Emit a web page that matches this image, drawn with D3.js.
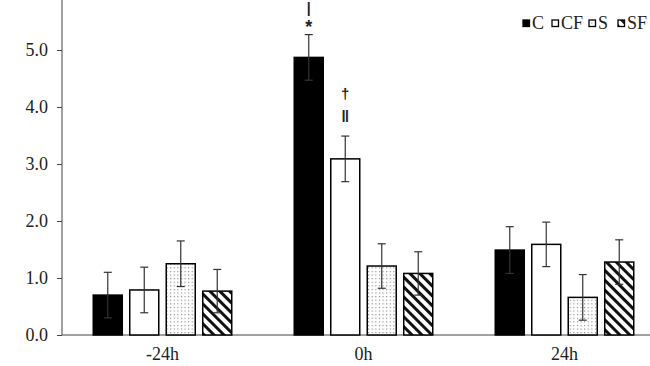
<!DOCTYPE html>
<html><head><meta charset="utf-8">
<script src="https://cdn.jsdelivr.net/npm/d3@7"></script>
<style>body{margin:0;background:#fff}svg{display:block}text{font-family:"Liberation Serif","Times New Roman",serif;fill:#222}</style>
</head><body><svg id="c" width="650" height="366"></svg>
<script>
const categories = ["-24h", "0h", "24h"];
const series = ["C", "CF", "S", "SF"];
const valuesC  = [0.70, 4.87, 1.49];
const valuesCF = [0.79, 3.09, 1.59];
const valuesS  = [1.25, 1.21, 0.66];
const valuesSF = [0.77, 1.08, 1.28];
const errC  = [0.40, 0.40, 0.41];
const errCF = [0.40, 0.40, 0.39];
const errS  = [0.40, 0.39, 0.40];
const errSF = [0.38, 0.38, 0.39];
const yTicks = [0, 1, 2, 3, 4, 5];
const annotations = [
  {cat: "0h", ser: "C", lines: ["*", "|"]},
  {cat: "0h", ser: "CF", lines: ["\u2016", "\u2020"]}
];

const vals = {C: valuesC, CF: valuesCF, S: valuesS, SF: valuesSF};
const errs = {C: errC, CF: errCF, S: errS, SF: errSF};
const data = [];
categories.forEach((c, i) => series.forEach(s => data.push({cat: c, ser: s, v: vals[s][i], e: errs[s][i]})));

const svg = d3.select("#c");
const defs = svg.append("defs");
const dots = defs.append("pattern").attr("id", "dots").attr("patternUnits", "userSpaceOnUse").attr("width", 3.6).attr("height", 3.6);
dots.append("rect").attr("width", 3.6).attr("height", 3.6).attr("fill", "#fff");
dots.append("rect").attr("x", 1).attr("y", 1).attr("width", 1).attr("height", 1).attr("fill", "#666");
const stripes = defs.append("pattern").attr("id", "stripes").attr("patternUnits", "userSpaceOnUse").attr("width", 7).attr("height", 7).attr("patternTransform", "rotate(45)");
stripes.append("rect").attr("width", 7).attr("height", 7).attr("fill", "#fff");
stripes.append("rect").attr("x", 0).attr("y", 0).attr("width", 7).attr("height", 3).attr("fill", "#111");

const fills = {C: "#000", CF: "#fff", S: "url(#dots)", SF: "url(#stripes)"};

const x0 = d3.scaleBand().domain(categories).range([62, 665]).paddingInner(0.311).paddingOuter(0.1555);
const x1 = d3.scaleBand().domain(series).range([0, x0.bandwidth()]).paddingInner(0.205).paddingOuter(0);
const y = d3.scaleLinear().domain([0, 6]).range([335, -7]);

// axes
const yAxis = svg.append("g").attr("transform", "translate(62,0)")
  .call(d3.axisLeft(y).tickValues(yTicks).tickFormat(d3.format(".1f")).tickSizeOuter(0).tickSize(5).tickPadding(9));
yAxis.select(".domain").attr("stroke", "#444").attr("d", "M0,335V0");
yAxis.selectAll(".tick line").attr("stroke", "#444");
yAxis.selectAll("text").attr("font-size", null).style("font-size", "18px").attr("fill", "#222");

const xAxis = svg.append("g").attr("transform", "translate(0,335)")
  .call(d3.axisBottom(x0).tickSize(0).tickPadding(12));
xAxis.select(".domain").attr("stroke", "#444").attr("d", "M62,0H650");
xAxis.selectAll("text").style("font-size", "18px").attr("fill", "#222");

// bars
const bx = d => x0(d.cat) + x1(d.ser);
svg.append("g").selectAll("rect").data(data).join("rect")
  .attr("x", bx).attr("width", x1.bandwidth())
  .attr("y", d => y(d.v)).attr("height", d => y(0) - y(d.v))
  .attr("fill", d => fills[d.ser]).attr("stroke", "#000").attr("stroke-width", 1.5);

// error bars
const eg = svg.append("g").attr("stroke", "#333").attr("stroke-width", 1.2);
data.forEach(d => {
  const cx = bx(d) + x1.bandwidth() / 2;
  eg.append("line").attr("x1", cx).attr("x2", cx).attr("y1", y(d.v - d.e)).attr("y2", y(d.v + d.e));
  eg.append("line").attr("x1", cx - 4).attr("x2", cx + 4).attr("y1", y(d.v + d.e)).attr("y2", y(d.v + d.e));
  eg.append("line").attr("x1", cx - 4).attr("x2", cx + 4).attr("y1", y(d.v - d.e)).attr("y2", y(d.v - d.e));
});

// annotations (offsets above the error-bar top)
const offs = {"*": [2, 18], "|": [22, 14], "\u2016": [14, 16], "\u2020": [37, 15]};
annotations.forEach(a => {
  const d = data.find(q => q.cat === a.cat && q.ser === a.ser);
  const cx = bx(d) + x1.bandwidth() / 2;
  const top = y(d.v + d.e);
  a.lines.forEach(t => {
    svg.append("text").attr("x", cx).attr("y", top - offs[t][0]).attr("text-anchor", "middle")
      .style("font-family", "'Liberation Sans', Arial, sans-serif")
      .style("font-size", offs[t][1] + "px").style("font-weight", "bold").attr("fill", "#111")
      .text(t);
  });
});

// legend
const legX = [523, 552, 589, 618];
const leg = svg.append("g");
series.forEach((s, i) => {
  leg.append("rect").attr("x", legX[i]).attr("y", 20).attr("width", 6.5).attr("height", 6.5)
    .attr("fill", fills[s]).attr("stroke", "#000").attr("stroke-width", 1.3);
  leg.append("text").attr("x", legX[i] + 9).attr("y", 28.5).style("font-size", "18px").text(s);
});
</script></body></html>
